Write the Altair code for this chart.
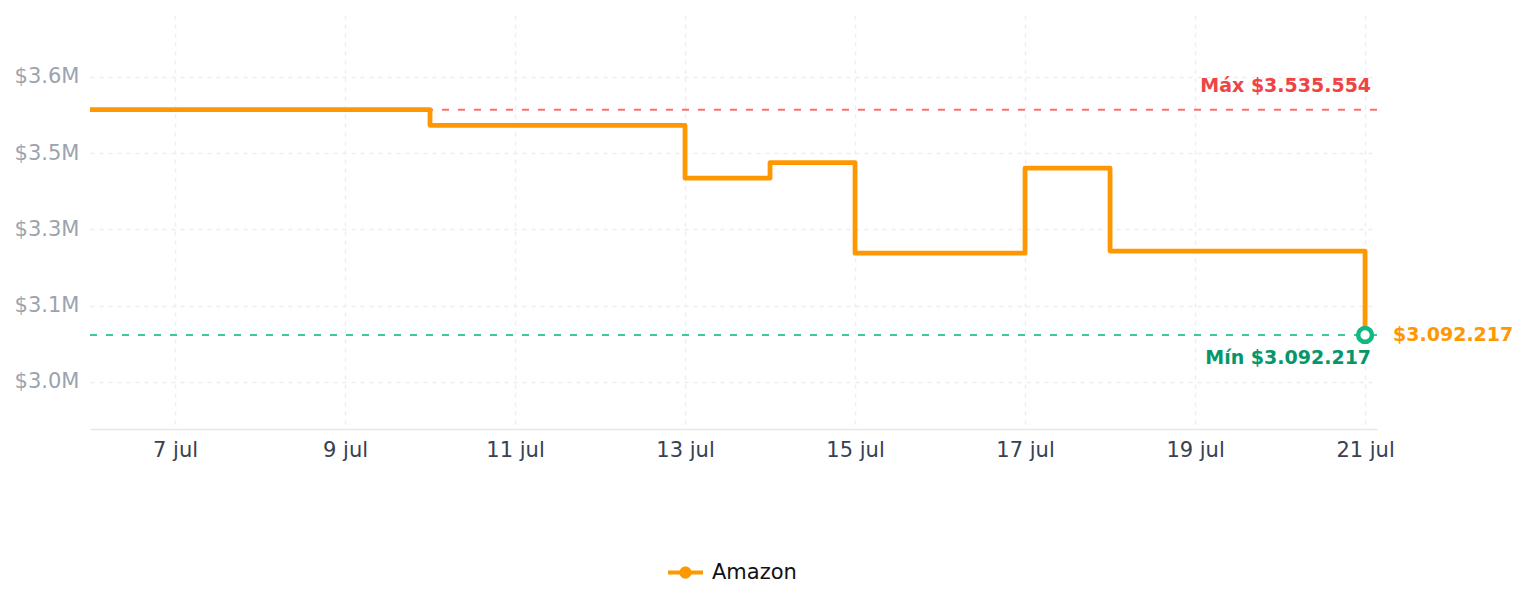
import altair as alt
import pandas as pd

# ---- data ----
dates = ["2025-07-06", "2025-07-07", "2025-07-08", "2025-07-09", "2025-07-10",
         "2025-07-11", "2025-07-12", "2025-07-13", "2025-07-14", "2025-07-15",
         "2025-07-16", "2025-07-17", "2025-07-18", "2025-07-19", "2025-07-20",
         "2025-07-21"]
prices = [3535554, 3535554, 3535554, 3535554, 3504900, 3504900, 3504900,
          3400700, 3431400, 3253200, 3253200, 3420400, 3257200, 3257200,
          3257200, 3092217]
store = "Amazon"

max_price = 3535554
min_price = 3092217
last_date = "2025-07-21"
max_label = "Máx $3.535.554"
min_label = "Mín $3.092.217"
last_label = "$3.092.217"

y_tick_values = [3000000, 3150000, 3300000, 3450000, 3600000]
y_tick_labels = ["$3.0M", "$3.1M", "$3.3M", "$3.5M", "$3.6M"]
x_tick_days = [7, 9, 11, 13, 15, 17, 19, 21]
y_domain = [2907000, 3722000]

ORANGE = "#ff9800"
RED_TXT = "#ef4444"
RED_LINE = "#f87171"
GREEN_TXT = "#059669"
GREEN = "#10b981"

df = pd.DataFrame({"date": dates, "price": prices, "store": store})
ann = pd.DataFrame({
    "date": [last_date],
    "maxp": [max_price], "minp": [min_price],
    "maxl": [max_label], "minl": [min_label], "lastl": [last_label],
})

y_label_expr = " : ".join(
    [f"datum.value == {v} ? '{l}'" for v, l in zip(y_tick_values, y_tick_labels)]
) + " : ''"

x_scale = alt.Scale(
    type="utc",
    domain=[alt.DateTime(year=2025, month=7, date=6, utc=True),
            alt.DateTime(year=2025, month=7, date=21, hours=3, minutes=22, utc=True)],
)
y_scale = alt.Scale(domain=y_domain, nice=False, zero=False)

x_axis = alt.Axis(
    values=[alt.DateTime(year=2025, month=7, date=d, utc=True) for d in x_tick_days],
    labelExpr="utcFormat(datum.value, '%-d') + ' jul'",
    title=None, ticks=False, domain=True, domainColor="#e5e7eb", domainWidth=1.5,
    grid=True, gridDash=[4, 5], gridColor="#eeeeee", gridWidth=1.5,
    labelColor="#374151", labelFontSize=21, labelPadding=10,
)
y_axis = alt.Axis(
    values=y_tick_values, labelExpr=y_label_expr, title=None, ticks=False,
    domain=False, grid=True, gridDash=[4, 5], gridColor="#eeeeee", gridWidth=1.5,
    labelColor="#9ca3af", labelFontSize=21, labelPadding=11,
)

legend_path = ("M -1 -0.12 H 1 V 0.12 H -1 Z "
               "M 0.35 0 A 0.35 0.35 0 1 1 -0.35 0 A 0.35 0.35 0 1 1 0.35 0 Z")

line = alt.Chart(df).mark_line(
    interpolate="step-after", strokeWidth=4.8, strokeJoin="round"
).encode(
    x=alt.X("date:T", scale=x_scale, axis=x_axis),
    y=alt.Y("price:Q", scale=y_scale, axis=y_axis),
    color=alt.Color("store:N", scale=alt.Scale(domain=[store], range=[ORANGE]),
                    legend=alt.Legend(
                        title=None, orient="none", legendX=578, legendY=540,
                        symbolType=legend_path, symbolSize=1225,
                        symbolFillColor=ORANGE, symbolStrokeWidth=0,
                        labelFontSize=21, labelColor="#111111", labelOffset=9,
                        padding=0)),
)

max_rule = alt.Chart(ann).mark_rule(
    color=RED_LINE, strokeWidth=2, strokeDash=[7, 9]
).encode(y=alt.Y("maxp:Q", scale=y_scale))
min_rule = alt.Chart(ann).mark_rule(
    color=GREEN, strokeWidth=2, strokeDash=[7, 9], opacity=0.8
).encode(y=alt.Y("minp:Q", scale=y_scale))

max_text = alt.Chart(ann).mark_text(
    align="right", baseline="middle", dx=6, dy=-24, fontSize=19,
    fontWeight="bold", color=RED_TXT
).encode(x=alt.X("date:T", scale=x_scale), y=alt.Y("maxp:Q", scale=y_scale),
         text="maxl:N")
min_text = alt.Chart(ann).mark_text(
    align="right", baseline="middle", dx=6, dy=23, fontSize=19,
    fontWeight="bold", color=GREEN_TXT
).encode(x=alt.X("date:T", scale=x_scale), y=alt.Y("minp:Q", scale=y_scale),
         text="minl:N")
last_text = alt.Chart(ann).mark_text(
    align="left", baseline="middle", dx=28, fontSize=19,
    fontWeight="bold", color=ORANGE
).encode(x=alt.X("date:T", scale=x_scale), y=alt.Y("minp:Q", scale=y_scale),
         text="lastl:N")

min_point = alt.Chart(ann).mark_point(
    shape="circle", filled=True, fill="white", stroke=GREEN, strokeWidth=4.5,
    size=190, opacity=1
).encode(x=alt.X("date:T", scale=x_scale), y=alt.Y("minp:Q", scale=y_scale))

chart = alt.layer(
    max_rule, min_rule, line, max_text, min_text, last_text, min_point
).properties(
    width=1287, height=414,
    autosize=alt.AutoSizeParams(type="none"),
    padding={"left": 90, "top": 15, "right": 147, "bottom": 178},
).configure(
    font="DejaVu Sans"
).configure_view(stroke=None)

chart.save("out.html", embed_options={"renderer": "svg", "actions": False})
